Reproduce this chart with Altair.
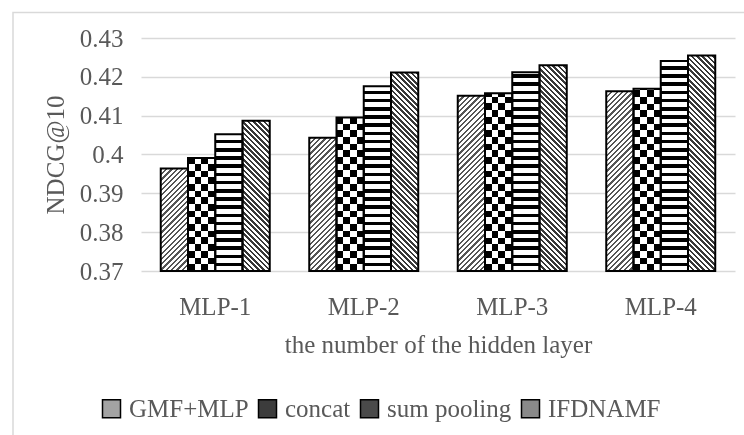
import math
import altair as alt
import pandas as pd

# ---------------- data ----------------
categories = ["MLP-1", "MLP-2", "MLP-3", "MLP-4"]
series = ["GMF+MLP", "concat", "sum pooling", "IFDNAMF"]
gmf_mlp = [0.3964, 0.4043, 0.4151, 0.4163]
concat = [0.3991, 0.4095, 0.4158, 0.4169]
sum_pooling = [0.4052, 0.4176, 0.4212, 0.4241]
ifdnamf = [0.4087, 0.4211, 0.4230, 0.4255]
y_ticks = [0.37, 0.38, 0.39, 0.40, 0.41, 0.42, 0.43]

values = {"GMF+MLP": gmf_mlp, "concat": concat, "sum pooling": sum_pooling, "IFDNAMF": ifdnamf}
rows = [{"layer": c, "model": s, "ndcg": values[s][i]}
        for i, c in enumerate(categories) for s in series]
df = pd.DataFrame(rows)

# ---------------- layout ----------------
W, H = 594, 233
Y_MIN, Y_MAX = 0.37, 0.43
PAD_IN = 0.266
STEP = W / (len(categories) - PAD_IN + PAD_IN)
BAR_W = STEP * (1 - PAD_IN) / len(series)
FONT = "Liberation Serif"
TXT = "#595959"
GRID = "#d9d9d9"


def band_stops(total, period, dark_len, dark, light, anchor_end=False):
    stops = []
    start = total - math.ceil(total / period) * period if anchor_end else 0.0
    pos = start
    while pos < total:
        for a, b, col in ((pos, pos + dark_len, dark), (pos + dark_len, pos + period, light)):
            a2, b2 = max(a, 0.0), min(b, total)
            if b2 > a2:
                stops.append(alt.GradientStop(offset=round(a2 / total, 5), color=col))
                stops.append(alt.GradientStop(offset=round(b2 / total, 5), color=col))
        pos += period
    return stops


def bar_height(v):
    return (v - Y_MIN) / (Y_MAX - Y_MIN) * H


def diag_up(h, period, duty, dark):
    # lines "/" : t = (x + y) / (W + H)
    r = h / BAR_W
    k = (BAR_W + h) / (BAR_W * (1 + r * r))
    return alt.LinearGradient(gradient="linear", x1=0, y1=0, x2=k, y2=k * r,
                              stops=band_stops(BAR_W + h, period, period * duty, dark, "white"))


def diag_down(h, period, duty, dark):
    # lines "\" : t = (x + H - y) / (W + H)
    r = h / BAR_W
    k = (BAR_W + h) / (BAR_W * (1 + r * r))
    return alt.LinearGradient(gradient="linear", x1=0, y1=1, x2=k, y2=1 - k * r,
                              stops=band_stops(BAR_W + h, period, period * duty, dark, "white"))


def horiz(h, period, dark_len, dark):
    return alt.LinearGradient(gradient="linear", x1=0, y1=0, x2=0, y2=1,
                              stops=band_stops(h, period, dark_len, dark, "white", anchor_end=True))


def fill_for(s, h):
    if s == "GMF+MLP":
        return diag_up(h, 5.3, 0.42, "#555555")
    if s == "IFDNAMF":
        return diag_down(h, 5.3, 0.5, "#383838")
    if s == "sum pooling":
        return horiz(h, 8.2, 3.6, "black")
    return horiz(h, 13.4, 6.7, "black")  # concat rows (checker base)


legend_fills = ["#a3a3a3", "#3c3c3c", "#4a4a4a", "#8a8a8a"]

base = alt.Chart(df).encode(
    x=alt.X("layer:N", sort=categories,
            scale=alt.Scale(paddingInner=PAD_IN, paddingOuter=PAD_IN / 2),
            axis=alt.Axis(title="the number of the hidden layer", labelAngle=0,
                          labelFont=FONT, labelFontSize=25, labelColor=TXT,
                          labelBaseline="alphabetic", labelPadding=43,
                          ticks=False, domain=False,
                          titleFont=FONT, titleFontSize=25, titleColor=TXT,
                          titleFontWeight="normal", titleBaseline="alphabetic",
                          titleY=81)),
    xOffset=alt.XOffset("model:N", sort=series,
                        scale=alt.Scale(domain=series, paddingInner=0, paddingOuter=0)),
    y=alt.Y("ndcg:Q", scale=alt.Scale(domain=[Y_MIN, Y_MAX], zero=False, nice=False),
            axis=alt.Axis(values=y_ticks, format=".2~f", title="NDCG@10",
                          labelFont=FONT, labelFontSize=25, labelColor=TXT,
                          labelPadding=18, ticks=False, domain=False,
                          grid=True, gridColor=GRID, gridWidth=1.5,
                          titleFont=FONT, titleFontSize=25, titleColor=TXT,
                          titleFontWeight="normal", titleAngle=270,
                          titleBaseline="alphabetic", titleAlign="center",
                          titleX=-78, titleY=H / 2)),
    y2=alt.datum(Y_MIN),
)

layers = [
    base.mark_bar().encode(
        color=alt.Color("model:N", sort=series,
                        scale=alt.Scale(domain=series, range=legend_fills),
                        legend=alt.Legend(orient="none", legendX=-42, legendY=358,
                                          direction="horizontal", title=None,
                                          symbolType="square", symbolSize=324,
                                          symbolStrokeColor="black", symbolStrokeWidth=1.5,
                                          labelFont=FONT, labelFontSize=25, labelColor=TXT,
                                          labelOffset=5, columnPadding=6, padding=0,
                                          labelLimit=400))
    )
]

for i, c in enumerate(categories):
    for s in series:
        h = bar_height(values[s][i])
        layers.append(
            base.transform_filter((alt.datum.layer == c) & (alt.datum.model == s))
            .mark_bar(fill=fill_for(s, h))
        )

# checkerboard columns (inverted with difference blend)
col_grad = alt.LinearGradient(gradient="linear", x1=0, y1=0, x2=1, y2=0,
                              stops=band_stops(BAR_W, 13.4, 6.7, "white", "black"))
layers.append(base.transform_filter(alt.datum.model == "concat")
              .mark_bar(fill=col_grad, blend="difference"))

# outlines
layers.append(base.mark_bar(fill="transparent", stroke="black", strokeWidth=2))

# outer chart frame
frame = alt.Chart(pd.DataFrame({"f": [0]})).mark_rect(
    fill="transparent", stroke=GRID, strokeWidth=1.5
).encode(x=alt.value(-128), x2=alt.value(660), y=alt.value(-25.5), y2=alt.value(420))
layers.append(frame)

chart = alt.layer(*layers).properties(
    width=W, height=H,
    autosize=alt.AutoSizeParams(type="none"),
    padding={"left": 141, "top": 38, "right": 9, "bottom": 164},
    title=alt.TitleParams("(a)", font=FONT, fontSize=25, color=TXT, fontWeight="normal",
                          anchor="middle", frame="group", dx=-54, offset=40,
                          baseline="alphabetic"),
).configure_view(strokeWidth=0).configure_legend(
    labelFont=FONT, labelFontSize=25, labelColor=TXT
)

chart.save("out.html", embed_options={"renderer": "svg", "actions": False})
